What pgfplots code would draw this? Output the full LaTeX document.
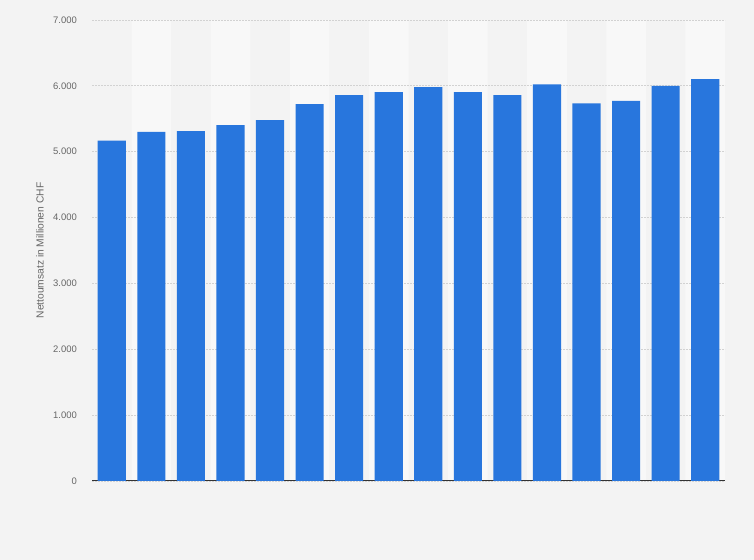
\documentclass[border=0pt]{standalone}
\usepackage{pgfplots}
\pgfplotsset{compat=1.18}
\usepackage{fontspec}
\setmainfont{Liberation Sans}
\definecolor{bg}{HTML}{F3F3F3}
\definecolor{stripe}{HTML}{F8F8F8}
\definecolor{barc}{HTML}{2876DD}
\definecolor{gridc}{HTML}{D2D2D2}
\definecolor{txt}{HTML}{666666}
\begin{document}
\begin{tikzpicture}
\begin{axis}[
  set layers, clip=false,
  at={(0,0)}, anchor=south west,
  scale only axis, width=633bp, height=461bp,
  xmin=0.5, xmax=16.5, ymin=0, ymax=7000,
  axis x line*=bottom, axis y line*=left,
  x axis line style={draw=black!80, line width=1bp},
  y axis line style={draw=none},
  xtick=\empty,
  ytick={0,1000,2000,3000,4000,5000,6000,7000},
  major tick length=0pt,
  ymajorgrids,
  grid style={dash pattern=on 1.5bp off 1.5bp, gridc, line width=0.8bp},
  yticklabel style={font=\fontsize{9.5}{11}\selectfont, text=txt, anchor=east, inner sep=0pt, xshift=-15bp,
    /pgf/number format/.cd, 1000 sep={.}, assume math mode=true},
  ylabel={Nettoumsatz in Millionen CHF},
  ylabel style={at={(axis description cs:-0.0821,0.5)}, anchor=center, font=\fontsize{10.3}{12}\selectfont, text=txt},
]
\begin{pgfonlayer}{axis background}
\fill[bg] (rel axis cs:-0.145340,-0.171367) rectangle (rel axis cs:1.045814,1.043384);
\end{pgfonlayer}
\addplot[ybar, bar width=1, bar shift=0pt, fill=stripe, draw=none, on layer=axis background]
  coordinates {(2,7000)(4,7000)(6,7000)(8,7000)(10,7000)(12,7000)(14,7000)(16,7000)};
\addplot[ybar, bar width=0.71, bar shift=0pt, fill=barc, draw=none]
  coordinates {(1,5170)(2,5300)(3,5314)(4,5405)(5,5481)(6,5724)(7,5861)(8,5906)
               (9,5982)(10,5906)(11,5861)(12,6023)(13,5735)(14,5770)(15,5998)(16,6104)};
\end{axis}
\end{tikzpicture}
\end{document}
